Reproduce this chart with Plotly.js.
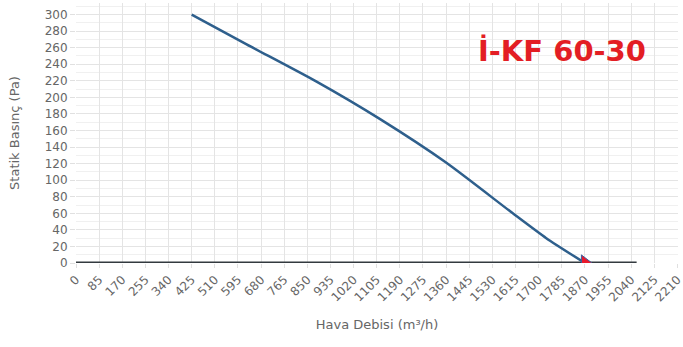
<!DOCTYPE html>
<html>
<head>
<meta charset="utf-8">
<script src="https://cdn.plot.ly/plotly-3.0.1.min.js"></script>
<style>html,body{margin:0;padding:0;background:#fff;}#chart{width:683px;height:347px;}</style>
</head>
<body>
<div id="chart"></div>
<script>
// Fan curve
const flow = [425, 627, 884, 1116, 1361, 1605, 1728, 1870];
const pressure = [300, 264, 219, 174, 121, 60, 30, 0];
// Zero-pressure baseline
const baseFlow = [0, 2060];
const basePressure = [0, 0];
// Operating point
const opFlow = [1870];
const opPressure = [0];
// Tick labels
const xTicks = [0,85,170,255,340,425,510,595,680,765,850,935,1020,1105,1190,1275,1360,1445,1530,1615,1700,1785,1870,1955,2040,2125,2210];
const yTicks = [0,20,40,60,80,100,120,140,160,180,200,220,240,260,280,300];
const modelName = "İ-KF 60-30";

const font = "DejaVu Sans, sans-serif";
const traces = [
  {x: baseFlow, y: basePressure, mode: 'lines', line: {color: '#333a3f', width: 3}, hoverinfo: 'skip'},
  {x: flow, y: pressure, mode: 'lines', line: {color: '#2e5f8c', width: 2.5, shape: 'spline', smoothing: 0.6}},
  {x: opFlow, y: opPressure, mode: 'markers', marker: {symbol: 'triangle-right', size: 14, color: '#e8192c', line: {color: '#3a5fa0', width: 1}}}
];
const layout = {
  width: 683, height: 347,
  margin: {l: 76, r: 5, t: 3, b: 84},
  paper_bgcolor: '#ffffff', plot_bgcolor: '#ffffff',
  showlegend: false,
  font: {family: font, color: '#666666', size: 12},
  xaxis: {
    range: [0, 2212], tickvals: xTicks, ticktext: xTicks.map(String), tickangle: -45,
    ticklabeloverflow: 'allow',
    showgrid: true, gridcolor: '#e4e4e4', gridwidth: 1, zeroline: false, showline: false,
    ticks: 'outside', ticklen: 4, tickcolor: '#e0e0e0',
    tickfont: {family: font, size: 12, color: '#666666'},
    title: {text: 'Hava Debisi (m³/h)', font: {family: font, size: 13, color: '#666666'}, standoff: 16}
  },
  yaxis: {
    range: [0, 314], tickvals: yTicks, ticktext: yTicks.map(String),
    showgrid: true, gridcolor: '#e4e4e4', gridwidth: 1, zeroline: false, showline: false,
    ticks: 'outside', ticklen: 5, tickcolor: '#e0e0e0',
    minor: {dtick: 10, showgrid: true, gridcolor: '#f0f0f0', ticks: ''},
    tickfont: {family: font, size: 12, color: '#666666'},
    title: {text: 'Statik Basınç (Pa)', font: {family: font, size: 13, color: '#666666'}, standoff: 22}
  },
  annotations: [{
    text: modelName, xref: 'paper', yref: 'paper', x: 0.807, y: 0.815,
    xanchor: 'center', yanchor: 'middle', showarrow: false,
    font: {family: 'DejaVu Sans, sans-serif', size: 29, color: '#e31e24', weight: 'bold'}
  }]
};
Plotly.newPlot('chart', traces, layout, {staticPlot: true, displayModeBar: false});
</script>
</body>
</html>
